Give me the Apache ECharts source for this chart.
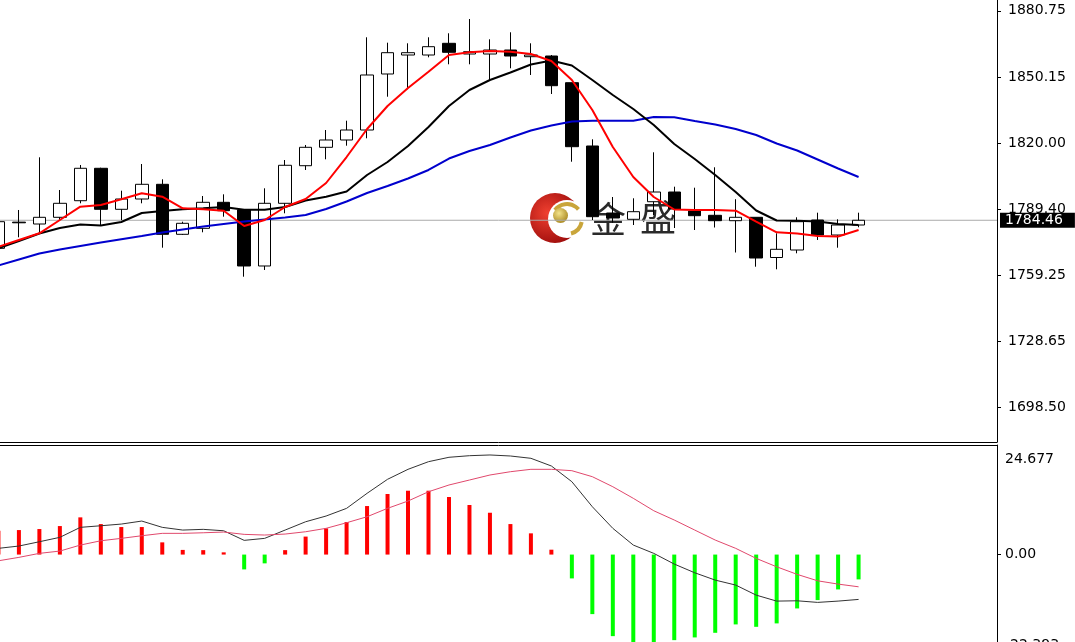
<!DOCTYPE html>
<html>
<head>
<meta charset="utf-8">
<script src="https://cdn.jsdelivr.net/npm/echarts@6/dist/echarts.min.js"></script>
<style>
html,body{margin:0;padding:0;background:#fff;}
#chart{width:1075px;height:642px;}
</style>
</head>
<body>
<div id="chart"></div>
<script>
// ---------- data ----------
const categories = Array.from({length: 43}, (_, i) => 'K' + (i + 1));
const padSlots = ['p1', 'p2', 'p3', 'p4', 'p5', 'p6'];

const opens  = [1771.57,1783.60,1782.74,1785.82,1793.45,1808.35,1789.50,1794.23,1800.99,1778.01,1780.76,1792.72,1789.18,1763.44,1792.26,1809.54,1818.00,1821.36,1825.95,1851.70,1860.43,1860.43,1865.81,1860.89,1860.89,1862.73,1859.65,1859.97,1847.70,1818.60,1787.80,1784.90,1792.99,1797.45,1788.72,1786.74,1784.26,1785.82,1767.34,1770.79,1784.58,1777.68,1782.28];
const closes = [1783.80,1783.30,1785.82,1792.26,1808.35,1789.50,1794.23,1800.99,1778.01,1783.06,1792.72,1788.86,1763.44,1792.26,1809.73,1818.00,1821.36,1825.95,1851.24,1861.49,1861.49,1864.25,1861.67,1861.95,1862.73,1859.97,1860.43,1846.32,1818.28,1786.10,1785.50,1788.40,1797.45,1789.64,1786.56,1784.26,1785.82,1767.11,1771.11,1783.80,1777.68,1782.28,1784.46];
const lows   = [1770.79,1776.63,1778.47,1784.26,1792.26,1782.28,1784.58,1792.26,1771.85,1777.68,1778.93,1786.10,1758.52,1761.60,1787.66,1807.57,1812.48,1818.74,1822.14,1841.26,1844.66,1859.37,1856.16,1856.16,1848.94,1854.32,1851.24,1842.50,1811.38,1784.58,1783.34,1782.28,1786.88,1780.90,1779.98,1781.13,1769.64,1763.12,1761.92,1769.27,1775.39,1771.85,1781.23];
const highs  = [1785.50,1789.18,1813.40,1798.37,1809.87,1808.62,1798.05,1810.32,1803.29,1783.80,1795.61,1796.39,1789.64,1799.15,1812.16,1819.06,1825.95,1830.23,1868.57,1866.09,1865.81,1868.57,1870.41,1876.98,1867.65,1870.87,1865.81,1860.43,1847.70,1821.68,1795.15,1794.56,1815.70,1799.89,1799.43,1808.81,1794.14,1785.82,1778.47,1785.82,1787.94,1784.90,1787.94];

const maFast = [1772.31,1775.39,1778.47,1784.58,1790.70,1791.48,1794.10,1796.86,1795.29,1789.96,1789.50,1788.86,1781.82,1784.58,1790.56,1794.23,1801.59,1813.54,1826.41,1836.99,1845.26,1852.76,1860.43,1861.67,1862.27,1861.95,1860.89,1857.67,1848.94,1835.15,1818.14,1804.35,1795.15,1789.41,1789.18,1789.18,1788.86,1783.80,1778.93,1778.38,1777.23,1777.00,1779.98];
const maMid  = [1771.57,1774.93,1778.38,1780.90,1782.51,1782.05,1783.66,1787.80,1788.72,1789.50,1789.96,1790.56,1789.32,1789.32,1790.56,1793.55,1795.29,1797.68,1805.27,1811.24,1818.60,1827.33,1836.99,1844.34,1848.94,1852.39,1856.04,1857.90,1855.60,1848.94,1842.04,1835.61,1828.25,1819.52,1812.62,1805.27,1797.45,1788.95,1784.35,1784.26,1783.89,1782.74,1782.28];
const maSlow = [1763.67,1766.42,1769.18,1771.02,1772.63,1774.24,1775.76,1777.23,1778.84,1780.22,1781.59,1782.74,1783.89,1784.81,1785.73,1786.88,1789.64,1793.09,1797.00,1800.21,1803.66,1807.57,1812.85,1816.30,1819.06,1822.51,1825.72,1828.02,1829.86,1830.23,1830.23,1830.23,1831.93,1831.79,1830.09,1828.48,1826.41,1823.65,1819.75,1816.53,1812.39,1808.25,1804.35];

const macdHist = [5.36,5.52,5.75,6.42,8.38,6.87,6.20,6.20,2.75,1.05,1.00,0.50,-3.34,-1.98,1.00,4.05,5.90,7.33,10.93,13.64,14.38,14.38,12.96,11.16,9.42,6.87,4.78,1.10,-5.37,-13.41,-18.37,-21.00,-20.30,-19.27,-18.66,-17.62,-15.73,-16.27,-15.50,-12.13,-10.25,-7.85,-5.59];
const macdDif  = [1.40,1.92,2.89,3.88,6.13,6.49,6.87,7.55,6.13,5.52,5.68,5.36,3.20,3.65,5.52,7.39,8.68,10.41,13.79,16.95,19.20,20.92,21.91,22.27,22.43,22.20,21.68,19.95,16.41,10.77,5.91,2.14,0.27,-2.14,-4.10,-5.75,-6.87,-9.13,-10.48,-10.41,-10.77,-10.48,-10.10];
const macdDea  = [-1.40,-0.63,0.27,0.79,2.14,3.11,3.65,4.24,4.78,4.78,4.91,5.07,4.55,4.40,4.62,5.14,5.91,7.17,8.52,10.41,12.06,14.15,15.67,16.79,17.92,18.66,19.20,19.20,18.89,17.54,15.28,12.67,9.87,7.78,5.52,3.27,1.40,-0.86,-2.75,-4.46,-5.91,-6.65,-7.26];

const priceTickLabels = ['1698.50','1728.65','1759.25','1789.40','1820.00','1850.15','1880.75'];
const macdTickLabels  = ['24.677','0.00','-22.393'];
const lastPrice = 1784.46;
const priceMin = 1682.53, priceMax = 1885.715;
const macdMin = -22.393, macdMax = 24.677;

// ---------- build ----------
const xData = categories.concat(padSlots);
const candles = opens.map((o, i) => [o, closes[i], lows[i], highs[i]]);
const priceTicks = priceTickLabels.map(Number);
const macdTicks = macdTickLabels.map(Number);
const FONT = 'DejaVu Sans';

const band = 20.48;
const gridLeft = -1.58 - band / 2;
const gridWidth = xData.length * band;

const chart = echarts.init(document.getElementById('chart'), null, {renderer: 'canvas'});

const hiddenCat = (gi) => ({type: 'category', gridIndex: gi, data: xData, show: false, boundaryGap: true});

chart.setOption({
  animation: false,
  backgroundColor: '#ffffff',
  grid: [
    {left: gridLeft, width: gridWidth, top: 0, height: 442, outerBoundsMode: 'none', containLabel: false},
    {left: gridLeft, width: gridWidth, top: 445, height: 209, outerBoundsMode: 'none', containLabel: false},
    {left: 0, width: 997, top: 0, height: 442, outerBoundsMode: 'none', containLabel: false},
    {left: 0, width: 997, top: 445, height: 209, outerBoundsMode: 'none', containLabel: false}
  ],
  xAxis: [
    hiddenCat(0),
    hiddenCat(1),
    {type: 'value', gridIndex: 2, min: 0, max: 1, position: 'bottom',
     axisLine: {show: true, onZero: false, lineStyle: {color: '#000', width: 1}},
     axisTick: {show: false}, axisLabel: {show: false}, splitLine: {show: false}},
    {type: 'value', gridIndex: 3, min: 0, max: 1, position: 'top',
     axisLine: {show: true, onZero: false, lineStyle: {color: '#000', width: 1}},
     axisTick: {show: false}, axisLabel: {show: false}, splitLine: {show: false}}
  ],
  yAxis: [
    {type: 'value', gridIndex: 0, min: priceMin, max: priceMax, show: false, splitLine: {show: false}},
    {type: 'value', gridIndex: 1, min: macdMin, max: macdMax, show: false, splitLine: {show: false}},
    {type: 'value', gridIndex: 2, min: priceMin, max: priceMax, position: 'right',
     axisLine: {show: true, onZero: false, lineStyle: {color: '#000', width: 1}},
     axisTick: {show: true, length: 4, customValues: priceTicks, lineStyle: {color: '#000'}},
     axisLabel: {customValues: priceTicks, formatter: v => v.toFixed(2), margin: 11,
                 color: '#000', fontFamily: FONT, fontSize: 14},
     splitLine: {show: false}},
    {type: 'value', gridIndex: 3, min: macdMin, max: macdMax, position: 'right',
     axisLine: {show: true, onZero: false, lineStyle: {color: '#000', width: 1}},
     axisTick: {show: true, length: 4, customValues: [0], lineStyle: {color: '#000'}},
     axisLabel: {customValues: macdTicks, margin: 8, color: '#000', fontFamily: FONT, fontSize: 14,
                 formatter: v => {
                   const i = macdTicks.indexOf(v);
                   const s = i >= 0 ? macdTickLabels[i] : v.toFixed(2);
                   if (v === macdMax) return '{t|' + s + '}';
                   if (v === macdMin) return '{b|' + s + '}';
                   return '{m|' + s + '}';
                 },
                 rich: {
                   t: {padding: [28, 0, 0, 0], fontFamily: FONT, fontSize: 14, color: '#000'},
                   b: {padding: [0, 0, 18, 0], fontFamily: FONT, fontSize: 14, color: '#000'},
                   m: {fontFamily: FONT, fontSize: 14, color: '#000'}
                 }},
     splitLine: {show: false}}
  ],
  series: [
    {type: 'line', xAxisIndex: 2, yAxisIndex: 2, z: 1, silent: true,
     data: [[0, lastPrice], [1, lastPrice]], symbol: 'none',
     lineStyle: {color: '#aaaaaa', width: 1},
     endLabel: {show: true, formatter: () => lastPrice.toFixed(2), color: '#fff', backgroundColor: '#000',
                fontFamily: FONT, fontSize: 14, padding: [1, 12, 0, 5], distance: 3}},
    {type: 'candlestick', xAxisIndex: 0, yAxisIndex: 0, z: 3, data: candles, barWidth: 13,
     itemStyle: {color: '#ffffff', color0: '#000000', borderColor: '#000000', borderColor0: '#000000',
                 borderColorDoji: '#000000', borderWidth: 1}},
    {type: 'line', xAxisIndex: 0, yAxisIndex: 0, z: 4, data: maSlow, symbol: 'none',
     lineStyle: {color: '#0000cd', width: 2}},
    {type: 'line', xAxisIndex: 0, yAxisIndex: 0, z: 4, data: maMid, symbol: 'none',
     lineStyle: {color: '#000000', width: 2}},
    {type: 'line', xAxisIndex: 0, yAxisIndex: 0, z: 4, data: maFast, symbol: 'none',
     lineStyle: {color: '#ff0000', width: 2}},
    {type: 'bar', xAxisIndex: 1, yAxisIndex: 1, z: 2, data: macdHist, barWidth: 4,
     itemStyle: {color: p => p.value >= 0 ? '#ff0000' : '#00ff00'}},
    {type: 'line', xAxisIndex: 1, yAxisIndex: 1, z: 4, data: macdDif, symbol: 'none',
     lineStyle: {color: '#333333', width: 1}},
    {type: 'line', xAxisIndex: 1, yAxisIndex: 1, z: 4, data: macdDea, symbol: 'none',
     lineStyle: {color: '#e0486c', width: 1}}
  ],
  graphic: [
    {type: 'group', z: 50, silent: true, children: [
      {type: 'circle', shape: {cx: 555, cy: 218, r: 25},
       style: {fill: new echarts.graphic.RadialGradient(0.35, 0.4, 0.7, [
         {offset: 0, color: '#f04030'}, {offset: 1, color: '#9a0a0a'}])}},
      {type: 'circle', shape: {cx: 567, cy: 219, r: 19}, style: {fill: '#ffffff'}},
      {type: 'arc', shape: {cx: 567, cy: 219, r: 15, startAngle: -2.5, endAngle: -0.7},
       style: {stroke: '#c9a53a', lineWidth: 4, fill: null}},
      {type: 'arc', shape: {cx: 567, cy: 219, r: 15, startAngle: 0.2, endAngle: 1.3},
       style: {stroke: '#c9a53a', lineWidth: 4, fill: null}},
      {type: 'circle', shape: {cx: 560.5, cy: 215.5, r: 7.5},
       style: {fill: new echarts.graphic.RadialGradient(0.4, 0.35, 0.7, [
         {offset: 0, color: '#f3e38a'}, {offset: 1, color: '#a8861e'}])}},
      {type: 'text', style: {x: 590, y: 219, text: '金', fill: '#2a2a2a', font: '36px "Noto Sans CJK SC"',
                             textVerticalAlign: 'middle', textAlign: 'left'}},
      {type: 'text', style: {x: 640, y: 217, text: '盛', fill: '#2a2a2a', font: '36px "Noto Sans CJK SC"',
                             textVerticalAlign: 'middle', textAlign: 'left'}}
    ]}
  ]
});
</script>
</body>
</html>
